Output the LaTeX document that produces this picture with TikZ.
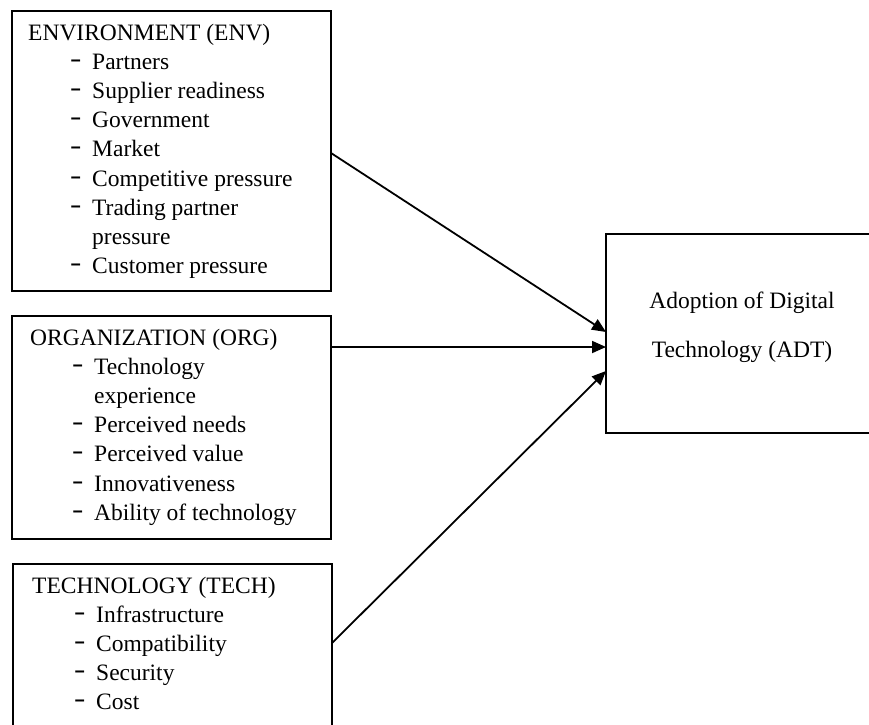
\documentclass[tikz,border=0pt]{standalone}
\usepackage{fontspec}
\setmainfont{Liberation Serif}
\usetikzlibrary{arrows.meta}
\newcommand\dashitem{\hspace*{42pt}\makebox[22pt][l]{\raisebox{3pt}{\scalebox{1.45}[1]{\textbf{-}}}}}
\newcommand\contitem{\hspace*{64pt}}
\begin{document}
\begin{tikzpicture}[x=1pt,y=-1pt,
  box/.style={draw,line width=1.7pt,rectangle,inner sep=0pt,outer sep=0pt,anchor=north west},
  lbl/.style={inner sep=0pt,anchor=base west,font=\fontsize{23.5}{29.2}\selectfont},
  arr/.style={line width=1.8pt,-{Triangle[length=14pt,width=12pt]}}]
\useasboundingbox (0,0) rectangle (869,724);
\begin{scope}
\clip (0,0) rectangle (869,724);
\node[box, minimum width=319pt, minimum height=280pt] (env) at (12,11) {};
\node[box, minimum width=319pt, minimum height=223pt] (org) at (12,316) {};
\node[box, minimum width=319pt, minimum height=196pt] (tech) at (13,564) {};
\node[box, minimum width=290pt, minimum height=199pt] (adt) at (606,234) {};
\end{scope}

\node[lbl] (envtxt) at (28,40) {\begin{tabular}[t]{@{}l@{}}
ENVIRONMENT (ENV)\\
\dashitem Partners\\
\dashitem Supplier readiness\\
\dashitem Government\\
\dashitem Market\\
\dashitem Competitive pressure\\
\dashitem Trading partner\\
\contitem pressure\\
\dashitem Customer pressure
\end{tabular}};

\node[lbl] (orgtxt) at (30,345) {\begin{tabular}[t]{@{}l@{}}
ORGANIZATION (ORG)\\
\dashitem Technology\\
\contitem experience\\
\dashitem Perceived needs\\
\dashitem Perceived value\\
\dashitem Innovativeness\\
\dashitem Ability of technology
\end{tabular}};

\node[lbl] (techtxt) at (32,593) {\begin{tabular}[t]{@{}l@{}}
TECHNOLOGY (TECH)\\
\dashitem Infrastructure\\
\dashitem Compatibility\\
\dashitem Security\\
\dashitem Cost
\end{tabular}};

\node[lbl, anchor=base] (adttxt) at (742,308) {\begin{tabular}[t]{@{}c@{}}
Adoption of Digital\\[19.8pt]
Technology (ADT)
\end{tabular}};

\draw[arr] ([yshift=-2pt]env.east) -- ([yshift=1.5pt]adt.west);
\draw[arr] ([yshift=80.5pt]org.east) -- ([yshift=-13.5pt]adt.west);
\draw[arr] ([yshift=19pt]tech.east) -- ([yshift=-37.5pt]adt.west);
\end{tikzpicture}
\end{document}
